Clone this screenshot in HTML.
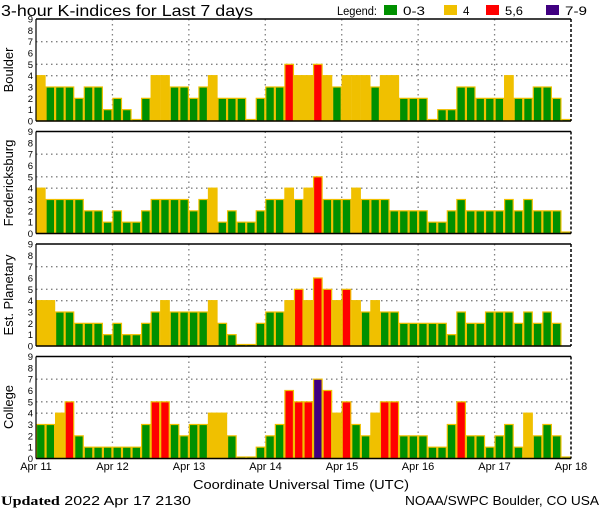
<!DOCTYPE html>
<html><head><meta charset="utf-8"><style>
html,body{margin:0;padding:0;background:#fff;}
svg{display:block;font-family:"Liberation Sans",sans-serif;}
</style></head><body>
<svg id="s" width="600" height="510" xmlns="http://www.w3.org/2000/svg">
<rect width="600" height="510" fill="#fff"/>
<text x="1" y="16" font-size="16" textLength="252" lengthAdjust="spacingAndGlyphs" fill="#000">3-hour K-indices for Last 7 days</text>
<text x="337" y="15" font-size="11.5" textLength="40" lengthAdjust="spacingAndGlyphs">Legend:</text>
<rect x="384" y="5" width="13" height="10" fill="#009000"/><text x="403" y="15" font-size="11.5" textLength="22" lengthAdjust="spacingAndGlyphs">0-3</text>
<rect x="444" y="5" width="13" height="10" fill="#f0c000"/><text x="463" y="15" font-size="11.5">4</text>
<rect x="486" y="5" width="13" height="10" fill="#ff0000"/><text x="505" y="15" font-size="11.5" textLength="18" lengthAdjust="spacingAndGlyphs">5,6</text>
<rect x="546" y="5" width="13" height="10" fill="#400080"/><text x="565" y="15" font-size="11.5" textLength="22" lengthAdjust="spacingAndGlyphs">7-9</text>
<g id="panels"></g>
<g font-size="11" text-anchor="middle">
<text x="36" y="470">Apr 11</text><text x="112.5" y="470">Apr 12</text><text x="189" y="470">Apr 13</text><text x="265.5" y="470">Apr 14</text><text x="342" y="470">Apr 15</text><text x="418" y="470">Apr 16</text><text x="494.5" y="470">Apr 17</text><text x="571" y="470">Apr 18</text>
</g>
<text x="193" y="489" font-size="13" textLength="216" lengthAdjust="spacingAndGlyphs">Coordinate Universal Time (UTC)</text>
<text x="1" y="505" font-size="13" textLength="190" lengthAdjust="spacingAndGlyphs"><tspan font-family="'Liberation Serif',serif" font-weight="bold">Updated</tspan> 2022 Apr 17 2130</text>
<text x="405" y="505" font-size="13" textLength="194" lengthAdjust="spacingAndGlyphs">NOAA/SWPC Boulder, CO USA</text>
<g font-size="13">
<text transform="translate(13,70) rotate(-90)" text-anchor="middle">Boulder</text>
<text transform="translate(13,183) rotate(-90)" text-anchor="middle">Fredericksburg</text>
<text transform="translate(13,295) rotate(-90)" text-anchor="middle">Est. Planetary</text>
<text transform="translate(13,407) rotate(-90)" text-anchor="middle">College</text>
</g>
<g font-size="9.5" text-anchor="end" id="yl"></g>
</svg>
<script>
var data=[
[4,3,3,3,2,3,3,1, 2,1,0,2,4,4,3,3, 2,3,4,2,2,2,0,2, 3,3,5,4,4,5,4,3, 4,4,4,3,4,4,2,2, 2,0,1,1,3,3,2,2, 2,4,2,2,3,3,2,0],
[4,3,3,3,3,2,2,1, 2,1,1,2,3,3,3,3, 2,3,4,1,2,1,1,2, 3,3,4,3,4,5,3,3, 3,4,3,3,3,2,2,2, 2,1,1,2,3,2,2,2, 2,3,2,3,2,2,2,0],
[4,4,3,3,2,2,2,1, 2,1,1,2,3,4,3,3, 3,3,4,2,1,0,0,2, 3,3,4,5,4,6,5,4, 5,4,3,4,3,3,2,2, 2,2,2,1,3,2,2,3, 3,3,2,3,2,3,2,null],
[3,3,4,5,2,1,1,1, 1,1,1,3,5,5,3,2, 3,3,4,4,2,0,0,1, 2,3,6,5,5,7,6,4, 5,3,2,4,5,5,2,2, 2,1,1,3,5,2,2,1, 2,3,1,4,2,3,2,0]];
var tops=[19,131.5,244,356.5],H=102,L=36,R=571,bw=(R-L)/56,u=H/9;
var ns="http://www.w3.org/2000/svg",g=document.getElementById('panels'),yl=document.getElementById('yl');
function el(n,a,p){var e=document.createElementNS(ns,n);for(var k in a)e.setAttribute(k,a[k]);(p||g).appendChild(e);return e;}
function col(k){return k<=3?'#009000':k==4?'#f0c000':k<=6?'#ff0000':'#400080';}
for(var p=0;p<4;p++){
 var t=tops[p],b=t+H;
 [4,5,7].forEach(function(k){el('line',{x1:L,x2:R,y1:b-k*u,y2:b-k*u,stroke:'#808080','stroke-dasharray':'1.5,3.5','stroke-width':1.3});});
 for(var d=1;d<7;d++){var x=L+d*8*bw;el('line',{x1:x,x2:x,y1:t,y2:b,stroke:'#808080','stroke-dasharray':'1.5,3.5','stroke-width':1.3});}
 for(var i=0;i<56;i++){var k=data[p][i];if(k===null)continue;var h=k==0?1.5:k*u;
  el('rect',{x:L+i*bw+0.5,y:b-h,width:bw-1,height:h,fill:col(k),stroke:'#f0c000','stroke-width':1.2});}
 el('line',{x1:L,x2:R,y1:t,y2:t,stroke:'#000','stroke-width':1.5});
 el('line',{x1:L,x2:R,y1:b,y2:b,stroke:'#000','stroke-width':1.5});
 el('line',{x1:L,x2:L,y1:t,y2:b,stroke:'#000','stroke-width':1.2});
 el('line',{x1:R,x2:R,y1:t,y2:b,stroke:'#000','stroke-width':1.5,'stroke-dasharray':'3,2'});
 for(var k=0;k<=9;k++){var e=el('text',{x:33,y:b-k*u+3.5},yl);e.textContent=k;}
}
</script>
</body></html>
